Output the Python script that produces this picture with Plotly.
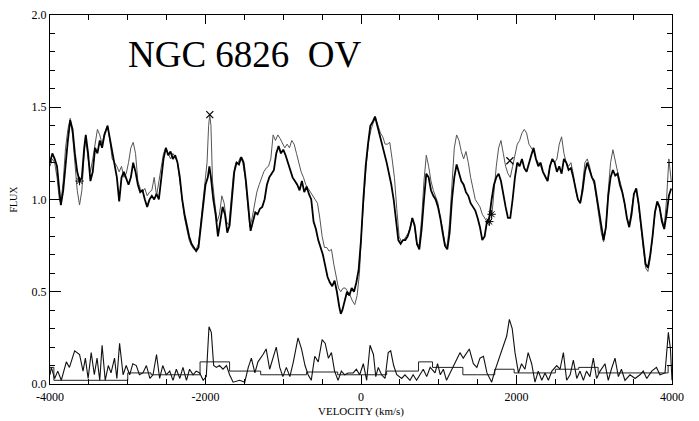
import plotly.graph_objects as go

# ---- thick (observed) spectrum ----
obs_v = [-4000,-3970,-3940,-3910,-3880,-3860,-3830,-3800,-3770,-3740,-3710,-3680,-3650,-3620,-3590,-3560,-3540,-3510,-3480,-3450,
         -3420,-3390,-3360,-3330,-3300,-3260,-3230,-3200,-3170,-3140,-3110,-3080,-3050,-3020,-2990,-2960,-2930,-2900,-2870,-2840,
         -2810,-2780,-2750,-2720,-2690,-2660,-2630,-2600,-2570,-2540,-2510,-2480,-2450,-2420,-2390,-2360,-2330,-2300,-2270,-2240,
         -2210,-2180,-2150,-2120,-2090,-2060,-2030,-2000,-1970,-1950,-1930,-1900,-1870,-1840,-1810,-1780,-1750,-1720,-1690,-1660,
         -1630,-1600,-1570,-1540,-1510,-1480,-1450,-1420,-1390,-1360,-1330,-1300,-1270,-1240,-1210,-1180,-1150,-1120,-1090,-1060,
         -1030,-1000,-970,-940,-910,-880,-850,-820,-790,-760,-730,-700,-670,-640,-610,-580,-550,-520,-490,-460,
         -430,-400,-370,-340,-310,-280,-260,-240,-210,-180,-150,-120,-90,-60,-30,0,30,60,90,120,
         150,180,210,240,270,300,330,360,390,420,450,480,510,540,570,600,630,660,690,720,
         750,780,810,840,870,900,930,960,990,1020,1050,1080,1110,1140,1170,1200,1230,1260,1290,1320,
         1350,1380,1410,1440,1470,1500,1530,1560,1590,1620,1650,1680,1710,1740,1770,1800,1830,1860,1890,1920,
         1950,1980,2010,2040,2070,2100,2130,2160,2190,2220,2250,2280,2310,2340,2370,2400,2430,2460,2490,2520,
         2550,2580,2610,2640,2670,2700,2730,2760,2790,2820,2850,2880,2910,2940,2970,3000,3030,3060,3090,3120,
         3150,3180,3210,3240,3270,3300,3330,3360,3390,3420,3450,3480,3510,3540,3570,3600,3630,3660,3690,3720,
         3750,3780,3810,3840,3870,3900,3930,3960,3990]
obs_f = [1.20,1.25,1.22,1.18,1.05,0.97,1.05,1.20,1.32,1.43,1.38,1.25,1.15,1.10,1.12,1.28,1.35,1.25,1.10,1.15,
         1.28,1.25,1.32,1.28,1.35,1.40,1.33,1.25,1.18,1.12,0.99,1.12,1.15,1.12,1.08,1.12,1.20,1.15,1.08,1.04,
         1.05,1.00,0.96,1.00,1.02,1.00,1.03,1.00,1.10,1.22,1.28,1.24,1.26,1.22,1.24,1.20,1.12,1.00,0.92,0.85,
         0.80,0.76,0.74,0.72,0.74,0.85,0.98,1.08,1.12,1.18,1.12,1.00,0.92,0.80,0.88,0.96,0.92,0.82,0.86,1.00,
         1.15,1.20,1.19,1.23,1.20,1.10,0.95,0.83,0.88,0.93,0.92,0.95,0.96,1.00,1.08,1.12,1.14,1.16,1.25,1.29,
         1.25,1.27,1.24,1.20,1.17,1.12,1.10,1.08,1.05,1.10,1.04,1.07,1.03,1.00,0.88,0.84,0.78,0.74,0.70,0.64,
         0.58,0.55,0.53,0.56,0.50,0.42,0.38,0.40,0.45,0.50,0.48,0.52,0.50,0.55,0.62,0.78,1.00,1.18,1.30,1.40,
         1.42,1.45,1.40,1.35,1.30,1.26,1.20,1.14,1.08,1.00,0.90,0.78,0.76,0.78,0.78,0.80,0.84,0.90,0.86,0.76,
         0.73,0.84,1.00,1.14,1.12,1.05,1.02,1.00,0.96,0.90,0.82,0.75,0.73,0.82,1.00,1.12,1.19,1.15,1.10,1.08,
         1.04,1.02,0.98,0.96,0.94,0.90,0.85,0.78,0.80,0.88,0.90,1.00,1.08,1.12,1.14,1.10,1.02,0.96,0.90,0.90,
         1.00,1.12,1.20,1.18,1.22,1.17,1.15,1.20,1.24,1.28,1.22,1.18,1.20,1.15,1.12,1.10,1.18,1.22,1.20,1.15,
         1.18,1.14,1.22,1.20,1.16,1.17,1.12,1.05,1.00,0.98,1.05,1.15,1.20,1.16,1.12,1.10,1.02,0.93,0.84,0.78,
         0.85,1.02,1.12,1.16,1.13,1.14,1.08,1.04,0.98,0.90,0.85,0.92,1.03,1.06,0.98,0.86,0.75,0.65,0.63,0.70,
         0.80,0.93,0.99,0.96,0.88,0.84,0.92,1.02,1.06]

# ---- thin (model) spectrum ----
mod_v = [-4000,-3970,-3940,-3910,-3880,-3860,-3830,-3800,-3770,-3740,-3710,-3680,-3650,-3620,-3590,-3560,-3540,-3510,-3480,-3450,
         -3420,-3390,-3360,-3330,-3300,-3260,-3230,-3200,-3170,-3140,-3110,-3080,-3050,-3020,-2990,-2960,-2930,-2900,-2870,-2840,
         -2810,-2780,-2750,-2720,-2690,-2660,-2630,-2600,-2570,-2540,-2510,-2480,-2450,-2420,-2390,-2360,-2330,-2300,-2270,-2240,
         -2210,-2180,-2150,-2120,-2090,-2060,-2030,-2000,-1980,-1960,-1945,-1930,-1910,-1880,-1850,-1820,-1790,-1760,-1730,-1700,
         -1670,-1640,-1610,-1580,-1550,-1520,-1490,-1460,-1430,-1400,-1370,-1340,-1310,-1280,-1250,-1220,-1190,-1160,-1130,-1100,
         -1070,-1040,-1010,-980,-950,-920,-890,-860,-830,-800,-770,-740,-710,-680,-650,-620,-590,-560,-530,-500,
         -470,-440,-410,-380,-350,-320,-290,-260,-230,-200,-170,-140,-110,-80,-50,-20,10,40,70,100,
         130,160,190,220,250,280,310,340,370,400,430,460,490,520,550,580,610,640,660,690,
         720,750,780,810,840,870,900,930,960,990,1020,1050,1080,1110,1140,1170,1200,1230,1260,1290,
         1320,1350,1380,1410,1440,1470,1500,1530,1560,1590,1620,1650,1680,1710,1740,1770,1800,1830,1860,1890,
         1920,1950,1980,2010,2040,2070,2100,2130,2160,2190,2220,2250,2280,2310,2340,2370,2400,2430,2460,2490,
         2520,2550,2580,2610,2640,2670,2700,2730,2760,2790,2820,2850,2880,2910,2940,2970,3000,3030,3060,3090,
         3120,3150,3180,3210,3240,3270,3300,3330,3360,3390,3420,3450,3480,3510,3540,3570,3600,3630,3660,3690,
         3720,3750,3780,3810,3840,3870,3900,3930,3960,3990]
mod_f = [1.18,1.22,1.20,1.12,1.00,0.98,1.10,1.28,1.38,1.44,1.35,1.18,1.05,0.97,1.05,1.25,1.33,1.22,1.15,1.22,
         1.30,1.38,1.35,1.30,1.36,1.40,1.32,1.22,1.20,1.18,1.15,1.18,1.12,1.14,1.20,1.28,1.31,1.25,1.10,1.06,
         1.04,1.06,1.02,1.04,1.05,1.12,1.02,1.10,1.18,1.25,1.28,1.25,1.22,1.25,1.23,1.20,1.10,0.98,0.90,0.84,
         0.78,0.75,0.73,0.73,0.76,0.88,1.00,1.10,1.20,1.40,1.46,1.40,1.10,0.98,0.88,0.92,1.02,0.98,0.88,0.86,
         1.00,1.14,1.20,1.20,1.23,1.20,1.12,0.98,0.85,0.90,0.98,1.04,1.08,1.12,1.15,1.17,1.18,1.22,1.35,1.32,
         1.35,1.33,1.30,1.28,1.30,1.28,1.32,1.30,1.25,1.20,1.15,1.12,1.08,1.06,1.04,1.02,1.00,0.98,0.90,0.80,
         0.74,0.74,0.72,0.73,0.65,0.58,0.52,0.50,0.52,0.52,0.50,0.48,0.45,0.43,0.48,0.60,0.85,1.05,1.20,1.32,
         1.38,1.42,1.44,1.40,1.36,1.34,1.30,1.30,1.31,1.22,1.12,0.95,0.80,0.77,0.78,0.80,0.82,0.86,0.90,0.85,
         0.75,0.76,0.90,1.10,1.24,1.18,1.10,1.05,1.02,0.98,0.90,0.84,0.76,0.75,0.88,1.10,1.28,1.35,1.32,1.26,
         1.22,1.26,1.20,1.12,1.05,1.00,0.98,0.96,0.92,0.90,0.88,0.86,0.90,1.05,1.18,1.28,1.32,1.25,1.18,1.14,
         1.12,1.18,1.24,1.30,1.32,1.36,1.38,1.36,1.30,1.28,1.26,1.22,1.20,1.18,1.15,1.12,1.10,1.18,1.22,1.20,
         1.22,1.30,1.34,1.25,1.20,1.18,1.20,1.14,1.05,1.00,0.98,1.08,1.20,1.22,1.18,1.12,1.08,1.00,0.92,0.82,
         0.77,0.85,1.05,1.20,1.27,1.20,1.15,1.10,1.05,0.98,0.90,0.86,0.94,1.03,1.05,0.97,0.85,0.74,0.63,0.61,
         0.68,0.80,0.92,0.98,0.95,0.90,0.85,1.00,1.22,1.10]

# ---- residual noise near zero ----
res_v = [-4000,-3983,-3940,-3900,-3855,-3790,-3750,-3683,-3620,-3575,-3545,-3510,-3470,-3430,-3395,-3360,-3330,-3290,-3250,-3215,
         -3170,-3140,-3105,-3060,-3020,-2975,-2935,-2890,-2850,-2805,-2760,-2715,-2675,-2630,-2590,-2550,-2505,-2460,-2418,-2375,
         -2330,-2290,-2245,-2205,-2160,-2120,-2075,-2030,-1990,-1955,-1925,-1895,-1860,-1820,-1775,-1730,-1690,-1645,-1560,-1495,
         -1450,-1410,-1365,-1325,-1260,-1220,-1175,-1130,-1090,-1045,-1005,-960,-915,-870,-810,-765,-720,-680,-640,-595,
         -550,-500,-460,-420,-380,-340,-295,-253,-210,-165,-100,-60,-17,30,73,116,160,190,222,265,
         309,350,382,420,460,523,565,630,670,715,801,845,890,952,985,1020,1059,1100,1145,1187,
         1230,1273,1315,1360,1393,1445,1490,1530,1575,1620,1681,1720,1779,1830,1874,1908,1945,1981,2025,2065,
         2109,2150,2195,2238,2280,2325,2367,2410,2455,2517,2560,2603,2645,2690,2731,2775,2817,2860,2900,2945,
         2988,3030,3075,3138,3180,3220,3267,3310,3350,3395,3460,3525,3588,3630,3675,3739,3800,3845,3910,3953,
         3980,4000]
res_f = [0.05,0.09,0.03,0.07,0.02,0.12,0.09,0.18,0.16,0.07,0.14,0.03,0.17,0.05,0.14,0.02,0.21,0.02,0.10,0.06,
         0.14,0.03,0.22,0.05,0.10,0.05,0.11,0.10,0.05,0.06,0.10,0.03,0.05,0.16,0.03,0.10,0.05,0.07,0.02,0.08,
         0.03,0.09,0.02,0.08,0.05,0.07,0.06,0.02,0.04,0.31,0.28,0.10,0.09,0.10,0.08,0.10,0.05,0.01,0.02,0.01,
         0.09,0.14,0.06,0.12,0.16,0.19,0.08,0.15,0.20,0.09,0.04,0.09,0.04,0.12,0.25,0.19,0.10,0.05,0.02,0.15,
         0.12,0.24,0.22,0.14,0.17,0.07,0.02,0.07,0.05,0.06,0.06,0.08,0.05,0.11,0.02,0.21,0.16,0.04,0.09,0.05,
         0.03,0.17,0.18,0.10,0.05,0.03,0.05,0.02,0.05,0.02,0.08,0.04,0.09,0.06,0.11,0.05,0.08,0.02,0.06,0.10,
         0.14,0.17,0.14,0.17,0.19,0.11,0.09,0.14,0.15,0.06,0.01,0.07,0.14,0.21,0.26,0.35,0.30,0.17,0.06,0.11,
         0.08,0.17,0.11,0.01,0.07,0.02,0.06,0.02,0.07,0.10,0.08,0.17,0.02,0.05,0.13,0.03,0.07,0.02,0.07,0.04,
         0.14,0.03,0.07,0.11,0.02,0.08,0.14,0.04,0.08,0.02,0.05,0.03,0.05,0.07,0.03,0.07,0.09,0.05,0.06,0.28,
         0.19,0.02]

# ---- step (binned error) line ----
step_v = [-4000,-3950,-3000,-2700,-2070,-1690,-1290,-700,-300,330,740,920,1310,1500,1720,1970,2500,2800,3050,3950,4000]
step_f = [0.09,0.02,0.06,0.05,0.12,0.07,0.05,0.065,0.05,0.07,0.12,0.09,0.05,0.05,0.08,0.06,0.08,0.09,0.06,0.10,0.10]

# ---- flagged points ----
flag_v = [-1945, 1915]
flag_f = [1.46, 1.21]
star_v = [-3620, 1650, 1680]
star_f = [1.10, 0.88, 0.92]

title_text = "NGC 6826  OV"
x_label = "VELOCITY (km/s)"
y_label = "FLUX"
x_ticks = [-4000, -2000, 0, 2000, 4000]
y_ticks = [0.0, 0.5, 1.0, 1.5, 2.0]

fig = go.Figure()
fig.add_trace(go.Scatter(x=step_v, y=step_f, mode="lines", line=dict(color="#222", width=1, shape="hv")))
fig.add_trace(go.Scatter(x=res_v, y=res_f, mode="lines", line=dict(color="#111", width=1.1)))
fig.add_trace(go.Scatter(x=mod_v, y=mod_f, mode="lines", line=dict(color="#555", width=1)))
fig.add_trace(go.Scatter(x=obs_v, y=obs_f, mode="lines", line=dict(color="#000", width=1.8)))
fig.add_trace(go.Scatter(x=flag_v, y=flag_f, mode="markers",
                         marker=dict(symbol="x-thin-open", size=7, color="#000", line=dict(width=1.2, color="#000"))))
fig.add_trace(go.Scatter(x=star_v, y=star_f, mode="markers",
                         marker=dict(symbol="asterisk-open", size=7, color="#000", line=dict(width=1, color="#000"))))

font_serif = "Liberation Serif, Times New Roman, serif"
fig.update_layout(
    width=699, height=421,
    margin=dict(l=42, r=35, t=7, b=45),
    paper_bgcolor="white", plot_bgcolor="white",
    showlegend=False,
    font=dict(family=font_serif, color="#000", size=12),
    xaxis=dict(range=[-4000, 4000], tickvals=x_ticks, ticktext=[str(v) for v in x_ticks],
               automargin=False, ticklabelstandoff=2,
               ticks="inside", ticklen=9, tickwidth=1, tickcolor="#000",
               minor=dict(dtick=500, tick0=-4000, ticks="inside", ticklen=5, tickcolor="#000"),
               showline=True, linecolor="#000", linewidth=1, mirror="allticks",
               showgrid=False, zeroline=False,
               title=dict(text=x_label, font=dict(size=11), standoff=3),
               tickfont=dict(size=12)),
    yaxis=dict(range=[0, 2.0], tickvals=y_ticks, ticktext=["%.1f" % v for v in y_ticks],
               automargin=False,
               ticks="inside", ticklen=11, tickwidth=1, tickcolor="#000",
               minor=dict(dtick=0.1, tick0=0, ticks="inside", ticklen=5, tickcolor="#000"),
               showline=True, linecolor="#000", linewidth=1, mirror="allticks",
               showgrid=False, zeroline=False,
               title=dict(text=y_label, font=dict(size=10), standoff=12),
               tickfont=dict(size=12)),
    annotations=[dict(text=title_text, xref="paper", yref="paper", x=0.122, y=0.893,
                      xanchor="left", yanchor="middle", showarrow=False,
                      font=dict(family=font_serif, size=37, color="#000"))],
)
fig.write_html("out.html")
